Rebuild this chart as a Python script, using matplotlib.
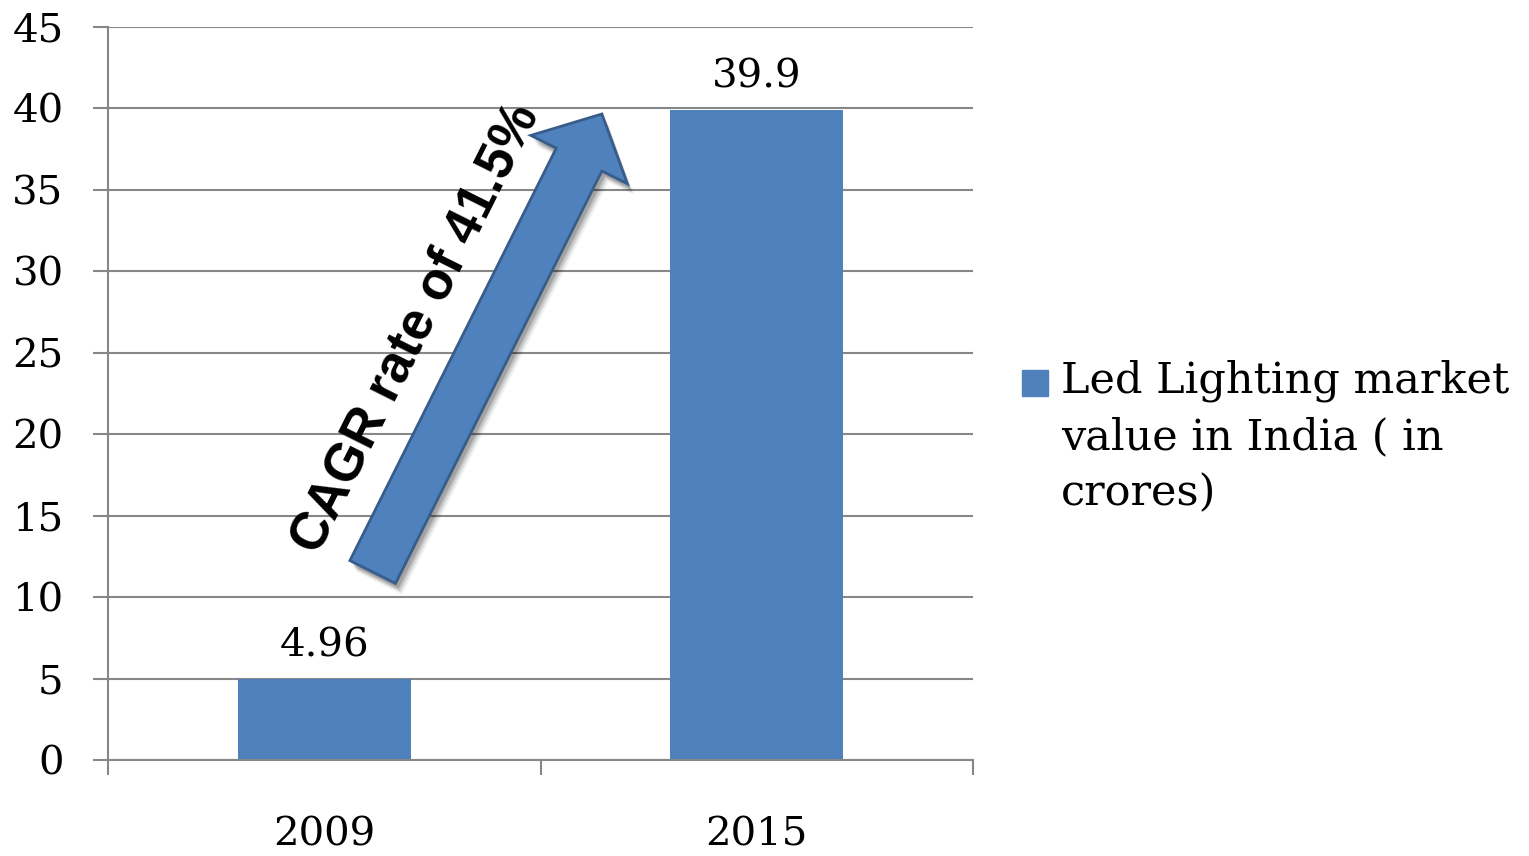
import matplotlib
matplotlib.use("Agg")
import matplotlib.pyplot as plt
from matplotlib.patches import FancyArrow, Rectangle
import numpy as np

# data
years = ["2009", "2015"]
values = [4.96, 39.9]
value_labels = ["4.96", "39.9"]
series_name = "Led Lighting market\nvalue in India ( in\ncrores)"
yticks = list(range(0, 50, 5))

BLUE = "#4F81BD"
GRID = "#878787"
SERIF = "DejaVu Serif"

fig = plt.figure(figsize=(15.29, 8.56), dpi=100)
ax = fig.add_axes([108 / 1529, 96 / 856, 865 / 1529, 733 / 856])

x = np.arange(len(years))
bars = ax.bar(x, values, width=0.4, color=BLUE, zorder=2, label=series_name)

ax.set_xlim(-0.5, len(years) - 0.5)
ax.set_ylim(0, 45)
ax.set_yticks(yticks)
ax.set_yticklabels([str(t) for t in yticks], family=SERIF, fontsize=29)
ax.yaxis.grid(True, color=GRID, linewidth=1.5, zorder=0)
ax.set_axisbelow(True)
ax.tick_params(axis="y", length=11, width=1.5, color=GRID, pad=21)

# category labels between boundary ticks
ax.set_xticks(x)
ax.set_xticklabels(years, family=SERIF, fontsize=29)
ax.set_xticks(np.arange(-0.5, len(years)), minor=True)
ax.tick_params(axis="x", which="major", length=0, pad=41)
ax.tick_params(axis="x", which="minor", length=11, width=1.5, color=GRID)

for s in ["top", "right"]:
    ax.spines[s].set_visible(False)
for s in ["left", "bottom"]:
    ax.spines[s].set_color(GRID)
    ax.spines[s].set_linewidth(1.5)

for xi, v, lab in zip(x, values, value_labels):
    ax.annotate(lab, (xi, v), xytext=(0, 16), textcoords="offset points",
                ha="center", va="baseline", family=SERIF, fontsize=29)

# growth arrow, drawn in pixels so it keeps its shape
tail = ax.transData.transform((0.112, 11.54))
tip = ax.transData.transform((0.642, 39.66))
d = tip - tail
for off, a in [(11, 0.06), (9, 0.09), (7, 0.12), (5, 0.15)]:
    sh = FancyArrow(tail[0] + off * 0.6, tail[1] - off, d[0], d[1], width=51,
                    head_width=108, head_length=51, length_includes_head=True,
                    transform=None, color="black", alpha=a, lw=0, zorder=3)
    fig.patches.append(sh)
arr = FancyArrow(tail[0], tail[1], d[0], d[1], width=51, head_width=108,
                 head_length=51, length_includes_head=True, transform=None,
                 facecolor=BLUE, edgecolor="#385D8A", lw=2, zorder=4)
fig.patches.append(arr)
ang = np.degrees(np.arctan2(d[1], d[0]))
ax.text(0.2116, 26.5, "CAGR rate of 41.5%", rotation=ang, rotation_mode="anchor",
        ha="center", va="center", family=["Liberation Sans", "DejaVu Sans"],
        weight="bold", fontsize=38, zorder=5)

# legend: square key beside the first line of the wrapped label
fig.add_artist(Rectangle((1022 / 1529, 1 - 396 / 856), 26 / 1529, 26 / 856,
                         transform=fig.transFigure, color=bars.patches[0].get_facecolor()))
fig.text(1061 / 1529, 1 - 360 / 856, series_name, ha="left", va="top",
         family=SERIF, fontsize=31, linespacing=1.42)

fig.savefig("out.png", dpi=100)
